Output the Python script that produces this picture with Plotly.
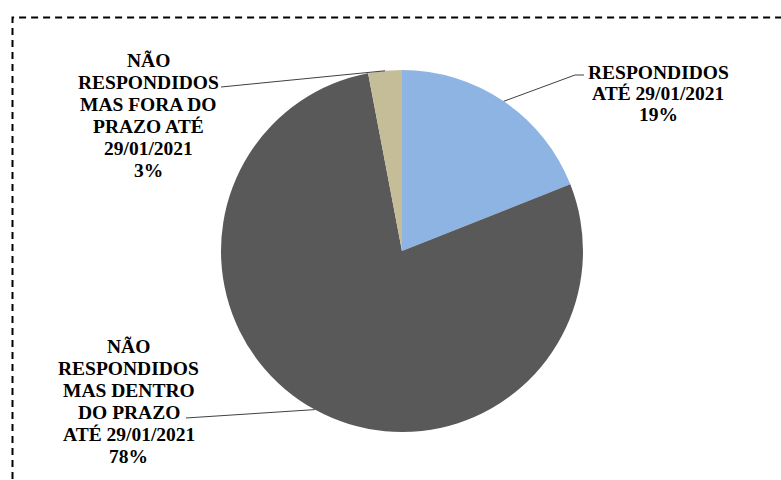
import math
import plotly.graph_objects as go

# Slice data (clockwise from 12 o'clock)
categories = [
    ["RESPONDIDOS", "ATÉ 29/01/2021"],
    ["NÃO", "RESPONDIDOS", "MAS DENTRO", "DO PRAZO", "ATÉ 29/01/2021"],
    ["NÃO", "RESPONDIDOS", "MAS FORA DO", "PRAZO ATÉ", "29/01/2021"],
]
shares = [19, 78, 3]
colors = ["#8EB4E3", "#595959", "#C4BD97"]

W, H = 781, 480
CX, CY, R = 402, 251, 181          # pie centre and radius in pixels

# Label layout: centre x, first baseline y, line pitch (pixels)
label_x = [658, 128.5, 148]
label_top = [78.5, 353, 66.7]
label_pitch = [21, 22, 22]
leader_knees = [(575, 75), (186, 418), (221, 87)]
leader_ends = [(584, 75), None, None]

FONT_SIZE = 19.5


def px(x, y):
    return x / W, 1 - y / H


fig = go.Figure(go.Pie(
    values=shares,
    labels=[" ".join(c) for c in categories],
    marker=dict(colors=colors, line=dict(width=0)),
    sort=False,
    direction="clockwise",
    rotation=0,
    textinfo="none",
    hoverinfo="label+percent",
    domain=dict(x=[(CX - R) / W, (CX + R) / W],
                y=[1 - (CY + R) / H, 1 - (CY - R) / H]),
    showlegend=False,
))

total = sum(shares)
cum = 0
annotations, shapes = [], []
for lines, v, lx, ly, pitch, knee, end in zip(categories, shares, label_x,
                                              label_top, label_pitch,
                                              leader_knees, leader_ends):
    # leader line from the middle of the slice's rim to its label
    mid = (cum + v / 2) / total * 2 * math.pi
    cum += v
    ex, ey = CX + R * math.sin(mid), CY - R * math.cos(mid)
    pts = [(ex, ey), knee] + ([end] if end else [])
    path = " ".join(("M" if i == 0 else "L") + f" {px(*p)[0]:.5f},{px(*p)[1]:.5f}"
                    for i, p in enumerate(pts))
    shapes.append(dict(type="path", xref="paper", yref="paper", path=path,
                       line=dict(color="#404040", width=1)))
    pct = f"{round(v / total * 100)}%"
    for i, t in enumerate(lines + [pct]):
        x, y = px(lx, ly + i * pitch - 0.33 * FONT_SIZE)
        annotations.append(dict(
            x=x, y=y, xref="paper", yref="paper", text=f"<b>{t}</b>",
            showarrow=False, xanchor="center", yanchor="middle",
            font=dict(family="Liberation Serif", size=FONT_SIZE, color="black"),
        ))

# dashed frame around the chart area
shapes.append(dict(type="rect", xref="paper", yref="paper",
                   x0=12.5 / W, x1=1.05, y0=-0.05, y1=1 - 17.5 / H,
                   line=dict(color="black", width=2, dash="7px,5px"),
                   fillcolor="rgba(0,0,0,0)"))

fig.update_layout(
    width=W, height=H,
    margin=dict(l=0, r=0, t=0, b=0),
    paper_bgcolor="white", plot_bgcolor="white",
    annotations=annotations, shapes=shapes,
)

fig.write_html("out.html")
